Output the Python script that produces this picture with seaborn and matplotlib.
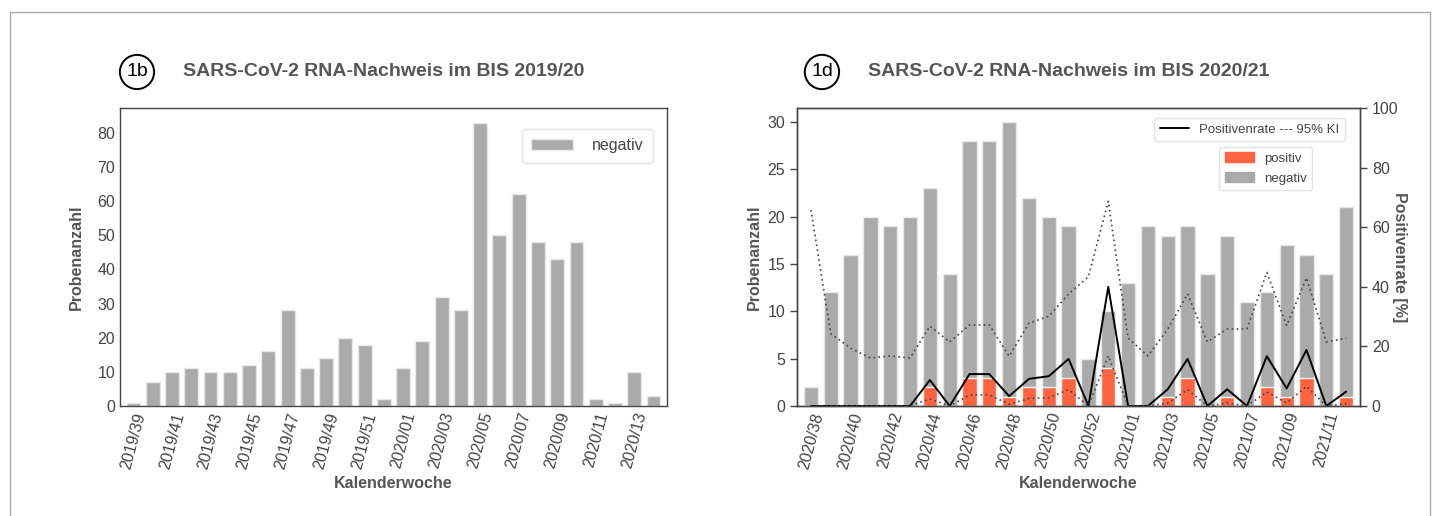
import matplotlib
matplotlib.use("Agg")
import matplotlib.pyplot as plt
import seaborn as sns
from matplotlib.patches import Rectangle
from matplotlib.lines import Line2D
from matplotlib.patches import Patch

# === Data: season 2019/20 (left) ===
weeks_1920 = ["2019/39", "2019/40", "2019/41", "2019/42", "2019/43", "2019/44", "2019/45",
              "2019/46", "2019/47", "2019/48", "2019/49", "2019/50", "2019/51", "2019/52",
              "2020/01", "2020/02", "2020/03", "2020/04", "2020/05", "2020/06", "2020/07",
              "2020/08", "2020/09", "2020/10", "2020/11", "2020/12", "2020/13", "2020/14"]
neg_1920 = [1, 7, 10, 11, 10, 10, 12, 16, 28, 11, 14, 20, 18, 2,
            11, 19, 32, 28, 83, 50, 62, 48, 43, 48, 2, 1, 10, 3]

# === Data: season 2020/21 (right) ===
weeks_2021 = ["2020/38", "2020/39", "2020/40", "2020/41", "2020/42", "2020/43", "2020/44",
              "2020/45", "2020/46", "2020/47", "2020/48", "2020/49", "2020/50", "2020/51",
              "2020/52", "2020/53", "2021/01", "2021/02", "2021/03", "2021/04", "2021/05",
              "2021/06", "2021/07", "2021/08", "2021/09", "2021/10", "2021/11", "2021/12"]
total_2021 = [2, 12, 16, 20, 19, 20, 23, 14, 28, 28, 30, 22, 20, 19,
              5, 10, 13, 19, 18, 19, 14, 18, 11, 12, 17, 16, 14, 21]
pos_2021 = [0, 0, 0, 0, 0, 0, 2, 0, 3, 3, 1, 2, 2, 3,
            0, 4, 0, 0, 1, 3, 0, 1, 0, 2, 1, 3, 0, 1]
rate_2021 = [0, 0, 0, 0, 0, 0, 8.7, 0, 10.7, 10.7, 3.3, 9.1, 10.0, 15.8,
             0, 40.0, 0, 0, 5.6, 15.8, 0, 5.6, 0, 16.7, 5.9, 18.8, 0, 4.8]
ci_low_2021 = [0, 0, 0, 0, 0, 0, 2.4, 0, 3.7, 3.7, 0.6, 2.5, 2.8, 5.5,
               0, 16.8, 0, 0, 1.0, 5.5, 0, 1.0, 0, 4.7, 1.0, 6.6, 0, 0.8]
ci_high_2021 = [65.8, 24.3, 19.4, 16.1, 16.8, 16.1, 26.8, 21.5, 27.2, 27.2, 16.7, 27.8, 30.1, 37.6,
                43.4, 68.7, 22.8, 16.8, 25.8, 37.6, 21.5, 25.8, 25.9, 44.8, 27.0, 43.0, 21.5, 22.7]

GREY = "#aaaaaa"
ORANGE = "#ff6440"
TXT = "#444444"

sns.set_theme(style="white")
plt.rcParams['font.family'] = ['Liberation Sans', 'DejaVu Sans']
plt.rcParams['axes.edgecolor'] = '#444444'
plt.rcParams['text.color'] = TXT
plt.rcParams['xtick.color'] = TXT
plt.rcParams['ytick.color'] = TXT
plt.rcParams['axes.labelcolor'] = '#555555'

fig = plt.figure(figsize=(14.39, 5.16), dpi=100)
ax1 = fig.add_axes([0.0834, 0.2132, 0.3801, 0.5775])
ax2 = fig.add_axes([0.5539, 0.2132, 0.3912, 0.5775])

# === Left chart ===
sns.barplot(x=weeks_1920, y=neg_1920, color=GREY, saturation=1, width=0.72,
            edgecolor="#e8e8e8", linewidth=1, label="negativ", ax=ax1)
ax1.set_xlim(-0.7, 27.7)
ax1.set_ylim(0, 87.3)
ax1.set_yticks(range(0, 81, 10))
ax1.set_xticks(range(0, 28, 2))
ax1.set_xticklabels(weeks_1920[::2], rotation=75)
ax1.tick_params(labelsize=11.5, length=0)
ax1.set_ylabel("Probenanzahl", fontsize=11.5, fontweight="bold", labelpad=10)
ax1.set_xlabel("Kalenderwoche", fontsize=11.5, fontweight="bold")
ax1.legend(loc="upper right", bbox_to_anchor=(0.975, 0.93), borderaxespad=0,
           fontsize=11.5, frameon=True, edgecolor="#dddddd", handlelength=2.6,
           handletextpad=1.2, borderpad=0.6)
for s in ax1.spines.values():
    s.set_linewidth(1.0)

# === Right chart ===
sns.barplot(x=weeks_2021, y=total_2021, color=GREY, saturation=1, width=0.72,
            edgecolor="#e8e8e8", linewidth=1, ax=ax2)
sns.barplot(x=weeks_2021, y=pos_2021, color=ORANGE, saturation=1, width=0.72,
            edgecolor="#f4f4f4", linewidth=1, ax=ax2)
ax2.set_xlim(-0.7, 27.7)
ax2.set_ylim(0, 31.5)
ax2.set_yticks(range(0, 31, 5))
ax2.set_xticks(range(0, 28, 2))
ax2.set_xticklabels(weeks_2021[::2], rotation=75)
ax2.tick_params(axis="x", labelsize=11.5, length=0)
ax2.tick_params(axis="y", labelsize=11.5, length=5, width=1, left=True, color="#444444")
ax2.set_ylabel("Probenanzahl", fontsize=11.5, fontweight="bold")
ax2.set_xlabel("Kalenderwoche", fontsize=11.5, fontweight="bold")

axr = ax2.twinx()
xs = list(range(len(weeks_2021)))
axr.plot(xs, rate_2021, color="black", lw=1.4)
axr.plot(xs, ci_low_2021, color="#444444", lw=1.2, ls=(0, (1, 2)))
axr.plot(xs, ci_high_2021, color="#444444", lw=1.2, ls=(0, (1, 2)))
axr.set_ylim(0, 100)
axr.set_yticks(range(0, 101, 20))
axr.tick_params(axis="y", labelsize=11.5, length=5, width=1, right=True, color="#444444")
axr.set_ylabel("Positivenrate [%]", fontsize=11.5, fontweight="bold", rotation=270, labelpad=6)
axr.grid(False)
for s in list(ax2.spines.values()) + list(axr.spines.values()):
    s.set_linewidth(1.0)

leg_line = axr.legend([Line2D([0], [0], color="black", lw=1.4)], ["Positivenrate --- 95% KI"],
                      loc="upper right", bbox_to_anchor=(0.973, 0.966), borderaxespad=0,
                      fontsize=9.5, edgecolor="#dddddd", handlelength=2.2)
axr.add_artist(leg_line)
axr.legend([Patch(color=ORANGE), Patch(color=GREY)], ["positiv", "negativ"],
           loc="upper right", bbox_to_anchor=(0.915, 0.869), borderaxespad=0,
           fontsize=9.5, edgecolor="#dddddd", handlelength=2.2, labelspacing=0.6)

# === Titles with circled labels ===
circ = dict(boxstyle="circle,pad=0.32", fc="white", ec="black", lw=1.4)
fig.text(0.0952, 0.8605, "1b", fontsize=14, color="black", ha="center", va="center", bbox=circ)
fig.text(0.1272, 0.8605, "SARS-CoV-2 RNA-Nachweis im BIS 2019/20", fontsize=14,
         fontweight="bold", color="#555555", va="center")
fig.text(0.5712, 0.8605, "1d", fontsize=14, color="black", ha="center", va="center", bbox=circ)
fig.text(0.6032, 0.8605, "SARS-CoV-2 RNA-Nachweis im BIS 2020/21", fontsize=14,
         fontweight="bold", color="#555555", va="center")

# outer frame
fig.patches.append(Rectangle((10 / 1439, -0.05), 1420 / 1439, 1.05 - 12 / 516,
                             transform=fig.transFigure, fill=False, ec="#aaaaaa", lw=1))

fig.savefig("out.png", dpi=100)
